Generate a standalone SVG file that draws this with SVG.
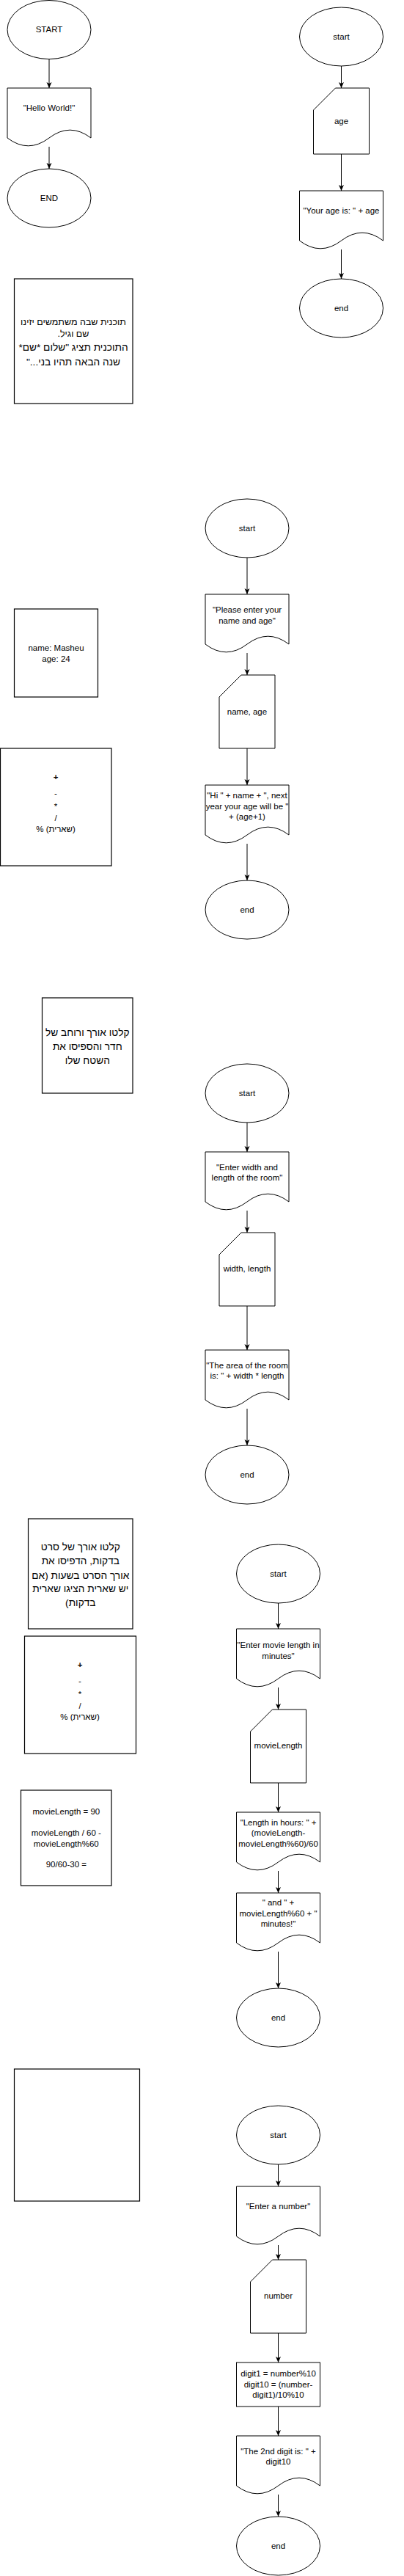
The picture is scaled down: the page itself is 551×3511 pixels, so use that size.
<svg xmlns="http://www.w3.org/2000/svg" width="551" height="3511" viewBox="0 0 551 3511">
<defs>
<style>
.s{fill:#fff;stroke:#000;stroke-width:1}
.n{fill:#fff;stroke:#000;stroke-width:1.2}
.t{font-family:"Liberation Sans",Arial,sans-serif;font-size:11.5px;fill:#000;text-anchor:middle}
.h{font-family:"Liberation Sans","DejaVu Sans",Arial,sans-serif;fill:#000;text-anchor:middle}
.b{font-size:13.7px}
.c{fill:none;stroke:#000;stroke-width:1}
</style>
<marker id="ar" viewBox="0 0 8 8" refX="8" refY="4" markerWidth="8" markerHeight="8" markerUnits="userSpaceOnUse" orient="auto">
<path d="M0,0.5 L8,4 L0,7.5 L2,4 Z" fill="#000"/>
</marker>
</defs>
<rect width="551" height="3511" fill="#fff"/>

<g id="connectors">
<path class="c" marker-end="url(#ar)" d="M67,80.5 V120"/>
<path class="c" marker-end="url(#ar)" d="M67,200 V230"/>
<path class="c" marker-end="url(#ar)" d="M465.5,90 V120"/>
<path class="c" marker-end="url(#ar)" d="M465.5,210 V260"/>
<path class="c" marker-end="url(#ar)" d="M465.5,340 V380"/>
<path class="c" marker-end="url(#ar)" d="M337,760 V810"/>
<path class="c" marker-end="url(#ar)" d="M337,890 V920"/>
<path class="c" marker-end="url(#ar)" d="M337,1020 V1070"/>
<path class="c" marker-end="url(#ar)" d="M337,1150 V1200"/>
<path class="c" marker-end="url(#ar)" d="M337,1530 V1570"/>
<path class="c" marker-end="url(#ar)" d="M337,1650 V1680"/>
<path class="c" marker-end="url(#ar)" d="M337,1780 V1840"/>
<path class="c" marker-end="url(#ar)" d="M337,1920 V1970"/>
<path class="c" marker-end="url(#ar)" d="M379.5,2185 V2220"/>
<path class="c" marker-end="url(#ar)" d="M379.5,2300 V2330"/>
<path class="c" marker-end="url(#ar)" d="M379.5,2430 V2470"/>
<path class="c" marker-end="url(#ar)" d="M379.5,2550 V2580"/>
<path class="c" marker-end="url(#ar)" d="M379.5,2660 V2710"/>
<path class="c" marker-end="url(#ar)" d="M379.5,2950 V2980"/>
<path class="c" marker-end="url(#ar)" d="M379.5,3060 V3080"/>
<path class="c" marker-end="url(#ar)" d="M379.5,3180 V3220"/>
<path class="c" marker-end="url(#ar)" d="M379.5,3280 V3320"/>
<path class="c" marker-end="url(#ar)" d="M379.5,3400 V3430"/>
</g>

<!-- Flow A -->
<g id="a-start"><ellipse class="s" cx="67" cy="40.5" rx="57" ry="40"/><text class="t" x="67" y="43.5">START</text></g>
<g id="a-print"><path class="s" d="M10,120 H124 V188 Q95.5,166.4 67,188 Q38.5,209.6 10,188 Z"/><text class="t" x="67" y="151">"Hello World!"</text></g>
<g id="a-end"><ellipse class="s" cx="67" cy="270" rx="57" ry="40"/><text class="t" x="67" y="273.5">END</text></g>

<!-- Flow B -->
<g id="b-start"><ellipse class="s" cx="465.5" cy="50" rx="57" ry="40"/><text class="t" x="465.5" y="53.5">start</text></g>
<g id="b-input"><path class="s" d="M457.5,120 H503.5 V210 H427.5 V150 Z"/><text class="t" x="465.5" y="169">age</text></g>
<g id="b-print"><path class="s" d="M408.5,260 H522.5 V328 Q494,306.4 465.5,328 Q437,349.6 408.5,328 Z"/><text class="t" x="465.5" y="291">"Your age is: " + age</text></g>
<g id="b-end"><ellipse class="s" cx="465.5" cy="420" rx="57" ry="40"/><text class="t" x="465.5" y="424">end</text></g>

<!-- Note 1 -->
<g id="note1"><rect class="n" x="19.5" y="380" width="161.5" height="170"/>
<text class="h" direction="rtl" x="100" y="442.5" font-size="12.5">תוכנית שבה משתמשים יזינו</text>
<text class="h" direction="rtl" x="100" y="459" font-size="12.5">שם וגיל.</text>
<text class="h b" direction="rtl" x="100" y="478">התוכנית תציג "שלום *שם*</text>
<text class="h b" direction="rtl" x="100" y="497.5">שנה הבאה תהיו בני..."</text>
</g>

<!-- Flow C -->
<g id="c-start"><ellipse class="s" cx="337" cy="720" rx="57" ry="40"/><text class="t" x="337" y="724">start</text></g>
<g id="c-print1"><path class="s" d="M280,810 H394 V878 Q365.5,856.4 337,878 Q308.5,899.6 280,878 Z"/><text class="t" x="337" y="835">"Please enter your</text><text class="t" x="337" y="849.5">name and age"</text></g>
<g id="c-input"><path class="s" d="M329,920 H375 V1020 H299 V950 Z"/><text class="t" x="337" y="974">name, age</text></g>
<g id="c-print2"><path class="s" d="M280,1070 H394 V1138 Q365.5,1116.4 337,1138 Q308.5,1159.6 280,1138 Z"/><text class="t" x="337" y="1088">"Hi " + name + ", next</text><text class="t" x="337" y="1102.5">year your age will be "</text><text class="t" x="337" y="1117">+ (age+1)</text></g>
<g id="c-end"><ellipse class="s" cx="337" cy="1240" rx="57" ry="40"/><text class="t" x="337" y="1244">end</text></g>

<g id="namebox"><rect class="n" x="19.5" y="830" width="114" height="120"/><text class="t" x="76.5" y="886.7">name: Masheu</text><text class="t" x="76.5" y="901.7">age: 24</text></g>

<g id="ops1"><rect class="n" x="0.5" y="1020" width="151.5" height="160"/>
<text class="t" x="76" y="1063.4" font-size="14" font-weight="bold">+</text>
<text class="t" x="76" y="1085">-</text>
<text class="t" x="76" y="1103.4">*</text>
<text class="t" x="76" y="1119">/</text>
<text class="h" x="76" y="1134" font-size="11.5">% (שארית)</text>
</g>

<!-- Note 2 -->
<g id="note2"><rect class="n" x="57.5" y="1360" width="123.5" height="130"/>
<text class="h b" direction="rtl" x="119.3" y="1411.7">קלטו אורך ורוחב של</text>
<text class="h b" direction="rtl" x="119.3" y="1431">חדר והספיסו את</text>
<text class="h b" direction="rtl" x="119.3" y="1450">השטח שלו</text>
</g>

<!-- Flow D -->
<g id="d-start"><ellipse class="s" cx="337" cy="1490" rx="57" ry="40"/><text class="t" x="337" y="1494">start</text></g>
<g id="d-print1"><path class="s" d="M280,1570 H394 V1638 Q365.5,1616.4 337,1638 Q308.5,1659.6 280,1638 Z"/><text class="t" x="337" y="1594.5">"Enter width and</text><text class="t" x="337" y="1609">length of the room"</text></g>
<g id="d-input"><path class="s" d="M329,1680 H375 V1780 H299 V1710 Z"/><text class="t" x="337" y="1733">width, length</text></g>
<g id="d-print2"><path class="s" d="M280,1840 H394 V1908 Q365.5,1886.4 337,1908 Q308.5,1929.6 280,1908 Z"/><text class="t" x="337" y="1864.5">"The area of the room</text><text class="t" x="337" y="1879">is: " + width * length</text></g>
<g id="d-end"><ellipse class="s" cx="337" cy="2010" rx="57" ry="40"/><text class="t" x="337" y="2014">end</text></g>

<!-- Note 3 -->
<g id="note3"><rect class="n" x="38.5" y="2070" width="142.5" height="150"/>
<text class="h b" direction="rtl" x="109.8" y="2113.3">קלטו אורך של סרט</text>
<text class="h b" direction="rtl" x="109.8" y="2132.3">בדקות, הדפיסו את</text>
<text class="h b" direction="rtl" x="109.8" y="2151.7">אורך הסרט בשעות (אם</text>
<text class="h b" direction="rtl" x="109.8" y="2170">יש שארית הציגו שארית</text>
<text class="h b" direction="rtl" x="109.8" y="2189">בדקות)</text>
</g>

<g id="ops2"><rect class="n" x="33.5" y="2230" width="152" height="160"/>
<text class="t" x="109" y="2273.4" font-size="14" font-weight="bold">+</text>
<text class="t" x="109" y="2295">-</text>
<text class="t" x="109" y="2313.4">*</text>
<text class="t" x="109" y="2329">/</text>
<text class="h" x="109" y="2344" font-size="11.5">% (שארית)</text>
</g>

<g id="moviebox"><rect class="n" x="28.5" y="2440" width="123.5" height="130"/>
<text class="t" x="90.3" y="2472.7">movieLength = 90</text>
<text class="t" x="90.3" y="2501.7">movieLength / 60 -</text>
<text class="t" x="90.3" y="2516.7">movieLength%60</text>
<text class="t" x="90.3" y="2545">90/60-30 =</text>
</g>

<!-- Flow E -->
<g id="e-start"><ellipse class="s" cx="379.5" cy="2145" rx="57" ry="40"/><text class="t" x="379.5" y="2149">start</text></g>
<g id="e-print1"><path class="s" d="M322.5,2220 H436.5 V2288 Q408,2266.4 379.5,2288 Q351,2309.6 322.5,2288 Z"/><text class="t" x="379.5" y="2246">"Enter movie length in</text><text class="t" x="379.5" y="2260.5">minutes"</text></g>
<g id="e-input"><path class="s" d="M371.5,2330 H417.5 V2430 H341.5 V2360 Z"/><text class="t" x="379.5" y="2383">movieLength</text></g>
<g id="e-print2"><path class="s" d="M322.5,2470 H436.5 V2538 Q408,2516.4 379.5,2538 Q351,2559.6 322.5,2538 Z"/><text class="t" x="379.5" y="2487.5">"Length in hours: " +</text><text class="t" x="379.5" y="2502">(movieLength-</text><text class="t" x="379.5" y="2516.5">movieLength%60)/60</text></g>
<g id="e-print3"><path class="s" d="M322.5,2580 H436.5 V2648 Q408,2626.4 379.5,2648 Q351,2669.6 322.5,2648 Z"/><text class="t" x="379.5" y="2597">" and " +</text><text class="t" x="379.5" y="2611.5">movieLength%60 + "</text><text class="t" x="379.5" y="2626">minutes!"</text></g>
<g id="e-end"><ellipse class="s" cx="379.5" cy="2750" rx="57" ry="40"/><text class="t" x="379.5" y="2754">end</text></g>

<g id="emptybox"><rect class="n" x="19.5" y="2820" width="171" height="180"/></g>

<!-- Flow F -->
<g id="f-start"><ellipse class="s" cx="379.5" cy="2910" rx="57" ry="40"/><text class="t" x="379.5" y="2914">start</text></g>
<g id="f-print1"><path class="s" d="M322.5,2980 H436.5 V3048 Q408,3026.4 379.5,3048 Q351,3069.6 322.5,3048 Z"/><text class="t" x="379.5" y="3011">"Enter a number"</text></g>
<g id="f-input"><path class="s" d="M371.5,3080 H417.5 V3180 H341.5 V3110 Z"/><text class="t" x="379.5" y="3133">number</text></g>
<g id="f-process"><rect class="s" x="322.5" y="3220" width="114" height="60"/><text class="t" x="379.5" y="3239">digit1 = number%10</text><text class="t" x="379.5" y="3253.5">digit10 = (number-</text><text class="t" x="379.5" y="3268">digit1)/10%10</text></g>
<g id="f-print2"><path class="s" d="M322.5,3320 H436.5 V3388 Q408,3366.4 379.5,3388 Q351,3409.6 322.5,3388 Z"/><text class="t" x="379.5" y="3344.5">"The 2nd digit is: " +</text><text class="t" x="379.5" y="3359">digit10</text></g>
<g id="f-end"><ellipse class="s" cx="379.5" cy="3470" rx="57" ry="40"/><text class="t" x="379.5" y="3474">end</text></g>
</svg>
